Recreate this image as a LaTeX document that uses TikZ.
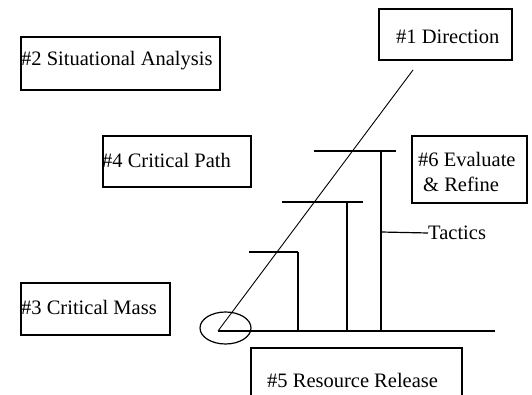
\documentclass[tikz,border=0pt]{standalone}
\usepackage{fontspec}
\setmainfont{Liberation Serif}
\usetikzlibrary{shapes.geometric}
\begin{document}
\begin{tikzpicture}[x=1pt,y=-1pt,
  box/.style={draw,line width=1.7pt},
  lbl/.style={font=\fontsize{20.5}{24}\selectfont,inner sep=0pt},
  thin/.style={line width=0.9pt},
  post/.style={line width=1.5pt}]
\useasboundingbox (0,0) rectangle (532,395);
% boxes
\draw[box] (379,9) rectangle (512,60) coordinate (b1);
\draw[box] (21,37) rectangle (220,90) coordinate (b2);
\draw[box] (103,136) rectangle (251,187) coordinate (b4);
\draw[box] (412,136) rectangle (527,203) coordinate (b6);
\draw[box] (21,283) rectangle (170,335) coordinate (b3);
\draw[box] (251,400) -- (251,348) -- (462,348) -- (462,400);
% labels
\node[lbl,anchor=west] (t1) at (396,37) {\#1 Direction};
\node[lbl,anchor=west] (t2) at (21,61) {\#2 Situational Analysis};
\node[lbl,anchor=west] (t4) at (102,160) {\#4 Critical Path};
\node[lbl,anchor=west] (t6a) at (418,159) {\#6 Evaluate};
\node[lbl,anchor=west] (t6b) at (423,184) {\& Refine};
\node[lbl,anchor=west] (t3) at (21,307) {\#3 Critical Mass};
\node[lbl,anchor=west] (t5) at (267,380) {\#5 Resource Release};
\node[lbl,anchor=west] (tt) at (428,233) {Tactics};
% structure
\coordinate (o) at (218,331);
\coordinate (top) at (413,70);
\coordinate (end) at (495,331);
\draw[thin] (o) -- (top);
\draw[line width=1.2pt] (o) -- (end);
\node[draw,line width=1.2pt,ellipse,minimum width=51pt,minimum height=32pt,inner sep=0pt] (el) at (225.5,328) {};
% bars
\draw[line width=1.2pt] (249,252) -- (298,252);
\draw[post] (298,252) -- (298,331);
\draw[line width=2.8pt] (282,202) -- (363,202);
\draw[post] (347,202) -- (347,331);
\draw[line width=1.2pt] (314,151) -- (396,151);
\draw[post] (381,151) -- (381,331);
\draw[line width=1.2pt] (381,232) -- (tt.west);
\end{tikzpicture}
\end{document}
